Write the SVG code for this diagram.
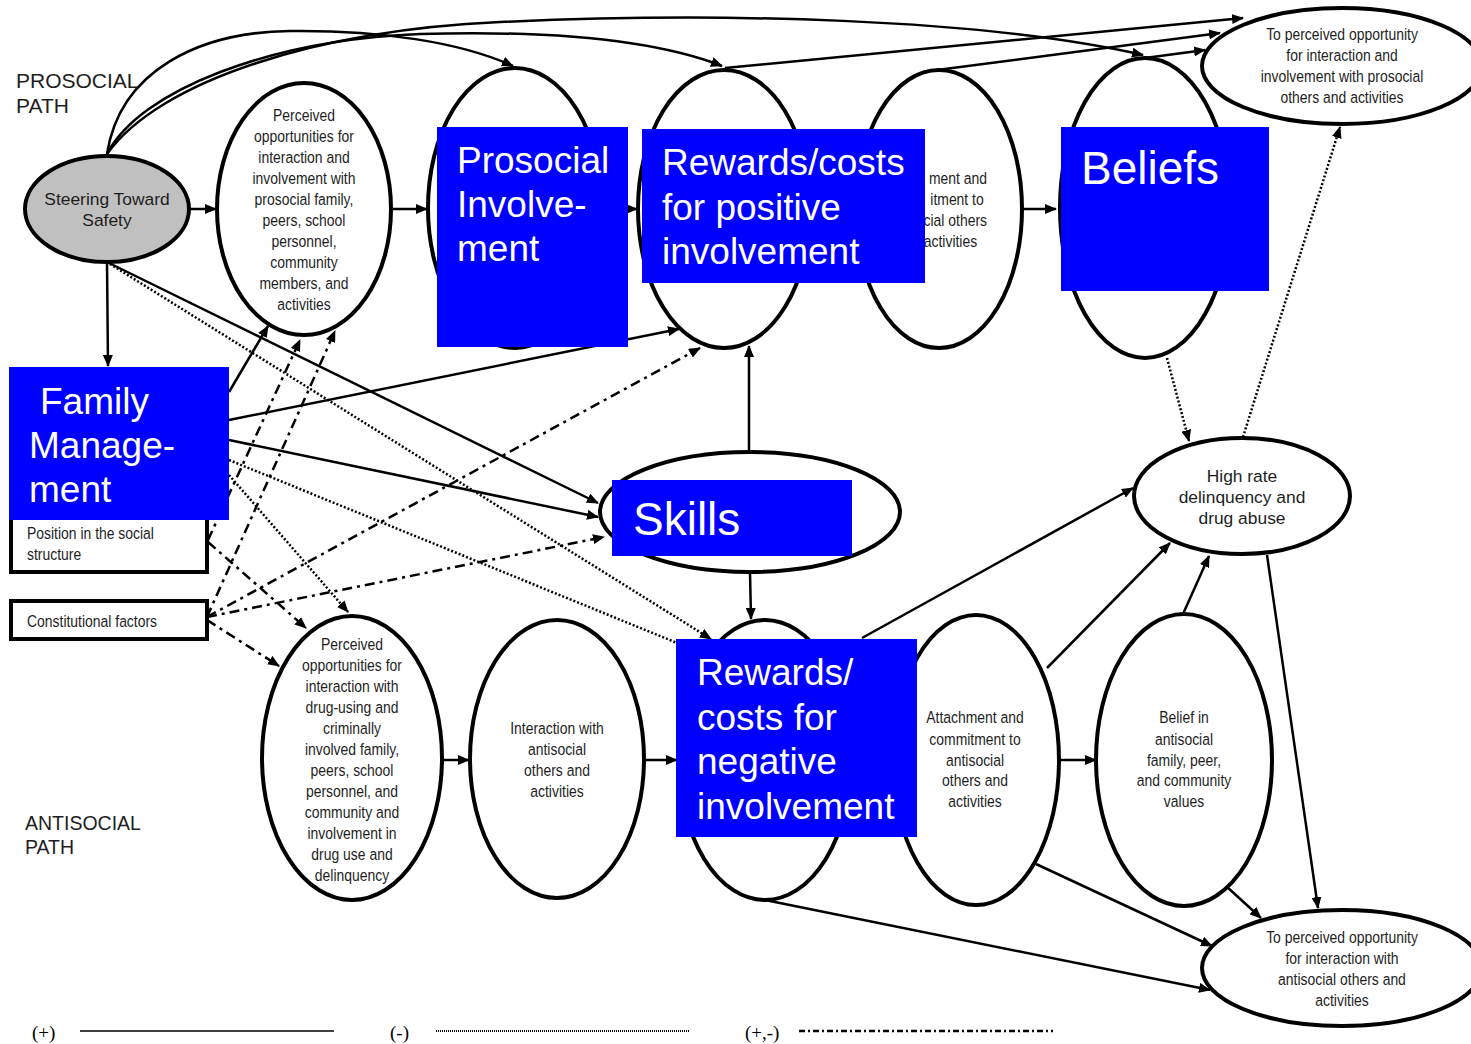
<svg xmlns="http://www.w3.org/2000/svg" width="1471" height="1044" viewBox="0 0 1471 1044">
<style>
.bg{fill:#fff}
.c{fill:none;stroke:#000;stroke-width:2.5}
.dot{stroke-dasharray:2 2}
.dd{stroke-dasharray:10 5 3 5}
.e{fill:#fff;stroke:#000;stroke-width:4}
.r{fill:#fff;stroke:#000;stroke-width:4}
.blue{fill:#0000ff}
.bt{fill:#fff;font-family:"Liberation Sans",Arial,sans-serif;font-size:37px}
.bt2{fill:#fff;font-family:"Liberation Sans",Arial,sans-serif;font-size:46px}
.n{fill:#1e1e1e;font-family:"Liberation Sans",Arial,sans-serif;font-size:17px;text-anchor:middle}
.ne{fill:#1e1e1e;font-family:"Liberation Sans",Arial,sans-serif;font-size:17px;text-anchor:end}
.nl{fill:#1e1e1e;font-family:"Liberation Sans",Arial,sans-serif;font-size:17px}
.t{fill:#1e1e1e;font-family:"Liberation Sans",Arial,sans-serif;font-size:17.4px;text-anchor:middle}
.p{fill:#1e1e1e;font-family:"Liberation Sans",Arial,sans-serif;font-size:21px}
.lg{fill:#000;font-family:"Liberation Serif","Times New Roman",serif;font-size:19px}
</style>
<defs>
<marker id="ah" viewBox="0 0 12 10" refX="11" refY="5" markerWidth="12" markerHeight="10" markerUnits="userSpaceOnUse" orient="auto"><path d="M0,0 L12,5 L0,10 z" fill="#000"/></marker>
</defs>
<rect class="bg" x="0" y="0" width="1471" height="1044"/>

<g id="connectors">
<line class="c" x1="190" y1="209" x2="216" y2="209" marker-end="url(#ah)"/>
<line class="c" x1="392" y1="209" x2="427" y2="209" marker-end="url(#ah)"/>
<line class="c" x1="603" y1="209" x2="637" y2="209" marker-end="url(#ah)"/>
<line class="c" x1="1022" y1="209" x2="1056" y2="209" marker-end="url(#ah)"/>
<path class="c" d="M107,154 C120,70 200,32 290,31 C380,30 460,42 513,66" marker-end="url(#ah)"/>
<path class="c" d="M107,154 C140,90 270,40 420,34 C560,30 660,42 722,66" marker-end="url(#ah)"/>
<path class="c" d="M107,154 C160,80 320,30 500,22 C720,12 980,18 1143,55" marker-end="url(#ah)"/>
<line class="c" x1="725" y1="68" x2="1243" y2="18" marker-end="url(#ah)"/>
<line class="c" x1="937" y1="70" x2="1220" y2="33" marker-end="url(#ah)"/>
<line class="c" x1="1145" y1="58" x2="1205" y2="50" marker-end="url(#ah)"/>
<line class="c" x1="107" y1="262" x2="108" y2="366" marker-end="url(#ah)"/>
<line class="c" x1="107" y1="262" x2="598" y2="503" marker-end="url(#ah)"/>
<line class="c dot" x1="110" y1="264" x2="711" y2="639" marker-end="url(#ah)"/>
<line class="c" x1="229" y1="392" x2="268" y2="326" marker-end="url(#ah)"/>
<line class="c" x1="229" y1="420" x2="679" y2="329" marker-end="url(#ah)"/>
<line class="c" x1="229" y1="440" x2="598" y2="517" marker-end="url(#ah)"/>
<line class="c dot" x1="229" y1="460" x2="682" y2="645"/>
<line class="c dot" x1="229" y1="475" x2="348" y2="612" marker-end="url(#ah)"/>
<line class="c dd" x1="208" y1="540" x2="300" y2="340" marker-end="url(#ah)"/>
<line class="c dd" x1="207" y1="617" x2="335" y2="331" marker-end="url(#ah)"/>
<line class="c dd" x1="207" y1="617" x2="700" y2="348" marker-end="url(#ah)"/>
<line class="c dd" x1="207" y1="617" x2="604" y2="537" marker-end="url(#ah)"/>
<line class="c dd" x1="208" y1="542" x2="306" y2="628" marker-end="url(#ah)"/>
<line class="c dd" x1="207" y1="620" x2="279" y2="666" marker-end="url(#ah)"/>
<line class="c" x1="749" y1="452" x2="749" y2="346" marker-end="url(#ah)"/>
<line class="c" x1="750" y1="572" x2="751" y2="619" marker-end="url(#ah)"/>
<line class="c" x1="442" y1="760" x2="469" y2="760" marker-end="url(#ah)"/>
<line class="c" x1="644" y1="760" x2="677" y2="760" marker-end="url(#ah)"/>
<line class="c" x1="1060" y1="760" x2="1096" y2="760" marker-end="url(#ah)"/>
<line class="c" x1="862" y1="638" x2="1133" y2="488" marker-end="url(#ah)"/>
<line class="c" x1="1047" y1="668" x2="1170" y2="543" marker-end="url(#ah)"/>
<line class="c" x1="1183" y1="614" x2="1209" y2="556" marker-end="url(#ah)"/>
<line class="c dot" x1="1167" y1="358" x2="1189" y2="441" marker-end="url(#ah)"/>
<line class="c dot" x1="1243" y1="437" x2="1340" y2="127" marker-end="url(#ah)"/>
<line class="c" x1="1267" y1="555" x2="1318" y2="908" marker-end="url(#ah)"/>
<line class="c" x1="1036" y1="864" x2="1212" y2="946" marker-end="url(#ah)"/>
<line class="c" x1="1226" y1="886" x2="1261" y2="918" marker-end="url(#ah)"/>
<line class="c" x1="765" y1="900" x2="1210" y2="990" marker-end="url(#ah)"/>
</g>

<text class="p" x="16" y="88">PROSOCIAL</text>
<text class="p" x="16" y="113">PATH</text>
<text class="p" x="25" y="830" style="font-size:19.5px">ANTISOCIAL</text>
<text class="p" x="25" y="854" style="font-size:19.5px">PATH</text>

<g id="steering">
<ellipse cx="107" cy="209" rx="82" ry="53" fill="#c0c0c0" stroke="#000" stroke-width="4"/>
<text class="t" x="107" y="205">Steering Toward</text>
<text class="t" x="107" y="226">Safety</text>
</g>

<g id="perceived-prosocial">
<ellipse class="e" cx="304" cy="209" rx="87" ry="126"/>
<g transform="translate(304 0) scale(0.82 1)">
<text class="n" x="0" y="121">Perceived</text>
<text class="n" x="0" y="142">opportunities for</text>
<text class="n" x="0" y="163">interaction and</text>
<text class="n" x="0" y="184">involvement with</text>
<text class="n" x="0" y="205">prosocial family,</text>
<text class="n" x="0" y="226">peers, school</text>
<text class="n" x="0" y="247">personnel,</text>
<text class="n" x="0" y="268">community</text>
<text class="n" x="0" y="289">members, and</text>
<text class="n" x="0" y="310">activities</text>
</g>
</g>

<g id="prosocial-involvement">
<ellipse class="e" cx="515" cy="208" rx="87" ry="140"/>
</g>

<g id="rewards-positive">
<ellipse class="e" cx="724" cy="209" rx="86" ry="139"/>
</g>

<g id="attachment-prosocial">
<ellipse class="e" cx="939" cy="209" rx="83" ry="139"/>
<g transform="translate(987 0) scale(0.82 1)">
<text class="ne" x="0" y="184">ment and</text>
<text class="ne" x="-4" y="205">itment to</text>
<text class="ne" x="0" y="226">cial others</text>
<text class="ne" x="-12" y="247">activities</text>
</g>
</g>

<g id="beliefs">
<ellipse class="e" cx="1145" cy="208" rx="85" ry="150"/>
</g>

<g id="outcome-prosocial">
<ellipse class="e" cx="1342" cy="66" rx="140" ry="58"/>
<g transform="translate(1342 0) scale(0.82 1)">
<text class="n" x="0" y="40">To perceived opportunity</text>
<text class="n" x="0" y="61">for interaction and</text>
<text class="n" x="0" y="82">involvement with prosocial</text>
<text class="n" x="0" y="103">others and activities</text>
</g>
</g>

<g id="position">
<rect class="r" x="11" y="505" width="196" height="67"/>
<g transform="translate(27 0) scale(0.82 1)">
<text class="nl" x="0" y="539">Position in the social</text>
<text class="nl" x="0" y="560">structure</text>
</g>
</g>

<g id="constitutional">
<rect class="r" x="11" y="601" width="196" height="38"/>
<g transform="translate(27 0) scale(0.82 1)">
<text class="nl" x="0" y="627">Constitutional factors</text>
</g>
</g>

<g id="skills">
<ellipse class="e" cx="750" cy="512" rx="150" ry="60"/>
</g>

<g id="high-rate">
<ellipse class="e" cx="1242" cy="496" rx="108" ry="58"/>
<text class="t" x="1242" y="482">High rate</text>
<text class="t" x="1242" y="503">delinquency and</text>
<text class="t" x="1242" y="524">drug abuse</text>
</g>

<g id="perceived-antisocial">
<ellipse class="e" cx="352" cy="758" rx="90" ry="142"/>
<g transform="translate(352 0) scale(0.82 1)">
<text class="n" x="0" y="650">Perceived</text>
<text class="n" x="0" y="671">opportunities for</text>
<text class="n" x="0" y="692">interaction with</text>
<text class="n" x="0" y="713">drug-using and</text>
<text class="n" x="0" y="734">criminally</text>
<text class="n" x="0" y="755">involved family,</text>
<text class="n" x="0" y="776">peers, school</text>
<text class="n" x="0" y="797">personnel, and</text>
<text class="n" x="0" y="818">community and</text>
<text class="n" x="0" y="839">involvement in</text>
<text class="n" x="0" y="860">drug use and</text>
<text class="n" x="0" y="881">delinquency</text>
</g>
</g>

<g id="interaction-antisocial">
<ellipse class="e" cx="557" cy="759" rx="87" ry="139"/>
<g transform="translate(557 0) scale(0.82 1)">
<text class="n" x="0" y="734">Interaction with</text>
<text class="n" x="0" y="755">antisocial</text>
<text class="n" x="0" y="776">others and</text>
<text class="n" x="0" y="797">activities</text>
</g>
</g>

<g id="rewards-negative">
<ellipse class="e" cx="765" cy="760" rx="86" ry="140"/>
</g>

<g id="attachment-antisocial">
<ellipse class="e" cx="976" cy="760" rx="83" ry="145"/>
<g transform="translate(975 0) scale(0.82 1)">
<text class="n" x="0" y="723">Attachment and</text>
<text class="n" x="0" y="745">commitment to</text>
<text class="n" x="0" y="766">antisocial</text>
<text class="n" x="0" y="786">others and</text>
<text class="n" x="0" y="807">activities</text>
</g>
</g>

<g id="belief-antisocial">
<ellipse class="e" cx="1184" cy="760" rx="88" ry="146"/>
<g transform="translate(1184 0) scale(0.82 1)">
<text class="n" x="0" y="723">Belief in</text>
<text class="n" x="0" y="745">antisocial</text>
<text class="n" x="0" y="766">family, peer,</text>
<text class="n" x="0" y="786">and community</text>
<text class="n" x="0" y="807">values</text>
</g>
</g>

<g id="outcome-antisocial">
<ellipse class="e" cx="1342" cy="968" rx="140" ry="58"/>
<g transform="translate(1342 0) scale(0.82 1)">
<text class="n" x="0" y="943">To perceived opportunity</text>
<text class="n" x="0" y="964">for interaction with</text>
<text class="n" x="0" y="985">antisocial others and</text>
<text class="n" x="0" y="1006">activities</text>
</g>
</g>

<g id="label-prosocial-involvement">
<rect class="blue" x="437" y="127" width="191" height="220"/>
<text class="bt" x="457" y="173">Prosocial</text>
<text class="bt" x="457" y="217">Involve-</text>
<text class="bt" x="457" y="261">ment</text>
</g>
<g id="label-rewards-positive">
<rect class="blue" x="642" y="129" width="283" height="154"/>
<text class="bt" x="662" y="175">Rewards/costs</text>
<text class="bt" x="662" y="220">for positive</text>
<text class="bt" x="662" y="264">involvement</text>
</g>
<g id="label-beliefs">
<rect class="blue" x="1061" y="127" width="208" height="164"/>
<text class="bt2" x="1081" y="184">Beliefs</text>
</g>
<g id="label-family">
<rect class="blue" x="9" y="367" width="220" height="153"/>
<text class="bt" x="40" y="414">Family</text>
<text class="bt" x="29" y="458">Manage-</text>
<text class="bt" x="29" y="502">ment</text>
</g>
<g id="label-skills">
<rect class="blue" x="612" y="480" width="240" height="76"/>
<text class="bt2" x="633" y="535">Skills</text>
</g>
<g id="label-rewards-negative">
<rect class="blue" x="676" y="639" width="241" height="198"/>
<text class="bt" x="697" y="685">Rewards/</text>
<text class="bt" x="697" y="730">costs for</text>
<text class="bt" x="697" y="774">negative</text>
<text class="bt" x="697" y="819">involvement</text>
</g>

<g id="legend">
<text class="lg" x="32" y="1039">(+)</text>
<line x1="80" y1="1031" x2="334" y2="1031" stroke="#000" stroke-width="1.5"/>
<text class="lg" x="390" y="1039">(-)</text>
<line x1="436" y1="1031" x2="689" y2="1031" stroke="#000" stroke-width="2" stroke-dasharray="1 1"/>
<text class="lg" x="745" y="1039">(+,-)</text>
<line x1="799" y1="1031" x2="1053" y2="1031" stroke="#000" stroke-width="2.5" stroke-dasharray="6 3 2 3"/>
</g>
</svg>
